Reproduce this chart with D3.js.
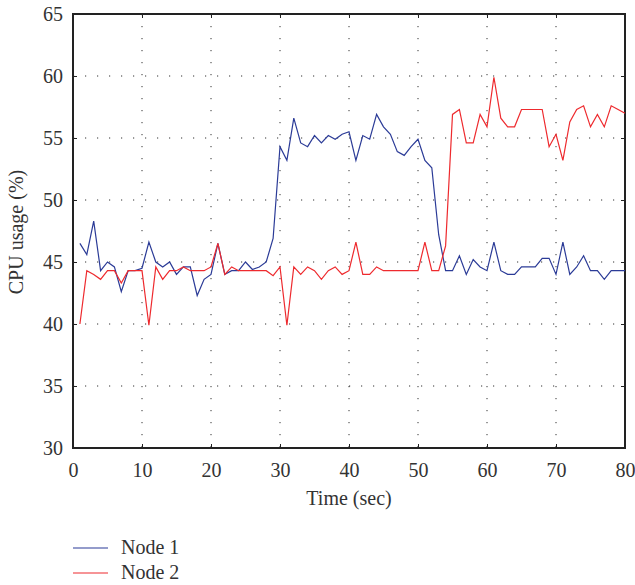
<!DOCTYPE html>
<html>
<head>
<meta charset="utf-8">
<script src="https://cdn.jsdelivr.net/npm/d3@7"></script>
<style>
  body { margin: 0; background: #fff; }
  text { font-family: "Liberation Serif", "DejaVu Serif", serif; fill: #333; }
</style>
</head>
<body>
<div id="chart"></div>
<script>
// time in seconds, 1..80
const times = d3.range(1, 81);

const node1 = [
  46.5, 45.6, 48.3, 44.3, 45.0, 44.6, 42.6, 44.3, 44.3, 44.5,
  46.6, 45.0, 44.6, 45.0, 44.0, 44.6, 44.6, 42.3, 43.6, 44.0,
  46.5, 44.0, 44.3, 44.3, 45.0, 44.4, 44.6, 45.0, 46.9, 54.3,
  53.2, 56.6, 54.6, 54.3, 55.2, 54.6, 55.2, 54.9, 55.3, 55.5,
  53.2, 55.2, 54.9, 56.9, 55.9, 55.3, 53.9, 53.6, 54.3, 54.9,
  53.2, 52.6, 47.2, 44.3, 44.3, 45.5, 44.0, 45.2, 44.6, 44.3,
  46.6, 44.3, 44.0, 44.0, 44.6, 44.6, 44.6, 45.3, 45.3, 44.0,
  46.6, 44.0, 44.6, 45.5, 44.3, 44.3, 43.6, 44.3, 44.3, 44.3
];

const node2 = [
  40.0, 44.3, 44.0, 43.6, 44.3, 44.3, 43.3, 44.3, 44.3, 44.3,
  39.9, 44.6, 43.6, 44.3, 44.3, 44.6, 44.3, 44.3, 44.3, 44.6,
  46.5, 44.0, 44.6, 44.3, 44.3, 44.3, 44.3, 44.3, 43.9, 44.6,
  39.9, 44.6, 44.0, 44.6, 44.3, 43.6, 44.3, 44.6, 44.0, 44.3,
  46.6, 44.0, 44.0, 44.6, 44.3, 44.3, 44.3, 44.3, 44.3, 44.3,
  46.6, 44.3, 44.3, 46.3, 56.9, 57.3, 54.6, 54.6, 56.9, 55.9,
  59.9, 56.6, 55.9, 55.9, 57.3, 57.3, 57.3, 57.3, 54.3, 55.3,
  53.2, 56.3, 57.3, 57.6, 55.9, 56.9, 55.9, 57.6, 57.3, 57.0
];

const xTicks = [0, 10, 20, 30, 40, 50, 60, 70, 80];
const yTicks = [30, 35, 40, 45, 50, 55, 60, 65];
const seriesNames = ["Node 1", "Node 2"];
const seriesColors = ["#2b3b97", "#ee2a2e"];

const width = 635, height = 585;
const margin = {left: 73, right: 10, top: 14, bottom: 137};
const plotW = width - margin.left - margin.right;
const plotH = height - margin.top - margin.bottom;
const fontSize = "20px";

const svg = d3.select("#chart").append("svg")
  .attr("width", width)
  .attr("height", height);

const g = svg.append("g")
  .attr("transform", `translate(${margin.left},${margin.top})`);

const x = d3.scaleLinear().domain([0, 80]).range([0, plotW]);
const y = d3.scaleLinear().domain([30, 65]).range([plotH, 0]);

// dotted grid
g.selectAll(".vgrid").data(xTicks.slice(1, -1)).enter().append("line")
  .attr("x1", d => x(d)).attr("x2", d => x(d))
  .attr("y1", 0).attr("y2", plotH)
  .attr("stroke", "#333").attr("stroke-width", 1)
  .attr("stroke-dasharray", "1.2,10.8");
g.selectAll(".hgrid").data(yTicks.slice(1, -1)).enter().append("line")
  .attr("x1", 0).attr("x2", plotW)
  .attr("y1", d => y(d)).attr("y2", d => y(d))
  .attr("stroke", "#333").attr("stroke-width", 1)
  .attr("stroke-dasharray", "1.2,10.8");

// axes (inward ticks)
g.append("g").attr("transform", `translate(0,${plotH})`)
  .call(d3.axisBottom(x).tickValues(xTicks).tickSizeInner(-4).tickSizeOuter(0).tickPadding(15));
g.append("g")
  .call(d3.axisLeft(y).tickValues(yTicks).tickSizeInner(-4).tickSizeOuter(0).tickPadding(10));
g.append("g").call(d3.axisTop(x).tickValues(xTicks).tickSizeInner(-4).tickSizeOuter(0).tickFormat(""));
g.append("g").attr("transform", `translate(${plotW},0)`)
  .call(d3.axisRight(y).tickValues(yTicks).tickSizeInner(-4).tickSizeOuter(0).tickFormat(""));

g.selectAll(".domain").remove();
g.selectAll(".tick line").attr("stroke", "#222").attr("stroke-width", 1);
g.selectAll(".tick text")
  .style("font-family", '"Liberation Serif", "DejaVu Serif", serif')
  .style("font-size", fontSize).attr("fill", "#333");

// frame
g.append("rect")
  .attr("x", 0).attr("y", 0).attr("width", plotW).attr("height", plotH)
  .attr("fill", "none").attr("stroke", "#222").attr("stroke-width", 2);

// lines
const line = d3.line()
  .x((d, i) => x(times[i]))
  .y(d => y(d));

[node1, node2].forEach((s, k) => {
  g.append("path")
    .datum(s)
    .attr("d", line)
    .attr("fill", "none")
    .attr("stroke", seriesColors[k])
    .attr("stroke-width", 1.2)
    .attr("stroke-linejoin", "miter");
});

// axis labels
svg.append("text")
  .attr("x", margin.left + plotW / 2)
  .attr("y", 505)
  .attr("text-anchor", "middle")
  .style("font-size", fontSize)
  .text("Time (sec)");

svg.append("text")
  .attr("transform", `translate(23,232) rotate(-90)`)
  .attr("text-anchor", "middle")
  .style("font-size", fontSize)
  .text("CPU usage (%)");

// legend
const legend = svg.append("g");
seriesNames.forEach((name, k) => {
  const ly = 548 + k * 25;
  legend.append("line")
    .attr("x1", 73).attr("x2", 108)
    .attr("y1", ly).attr("y2", ly)
    .attr("stroke", seriesColors[k]).attr("stroke-width", 1.2);
  legend.append("text")
    .attr("x", 121).attr("y", ly + 6)
    .style("font-size", fontSize)
    .text(name);
});
</script>
</body>
</html>
